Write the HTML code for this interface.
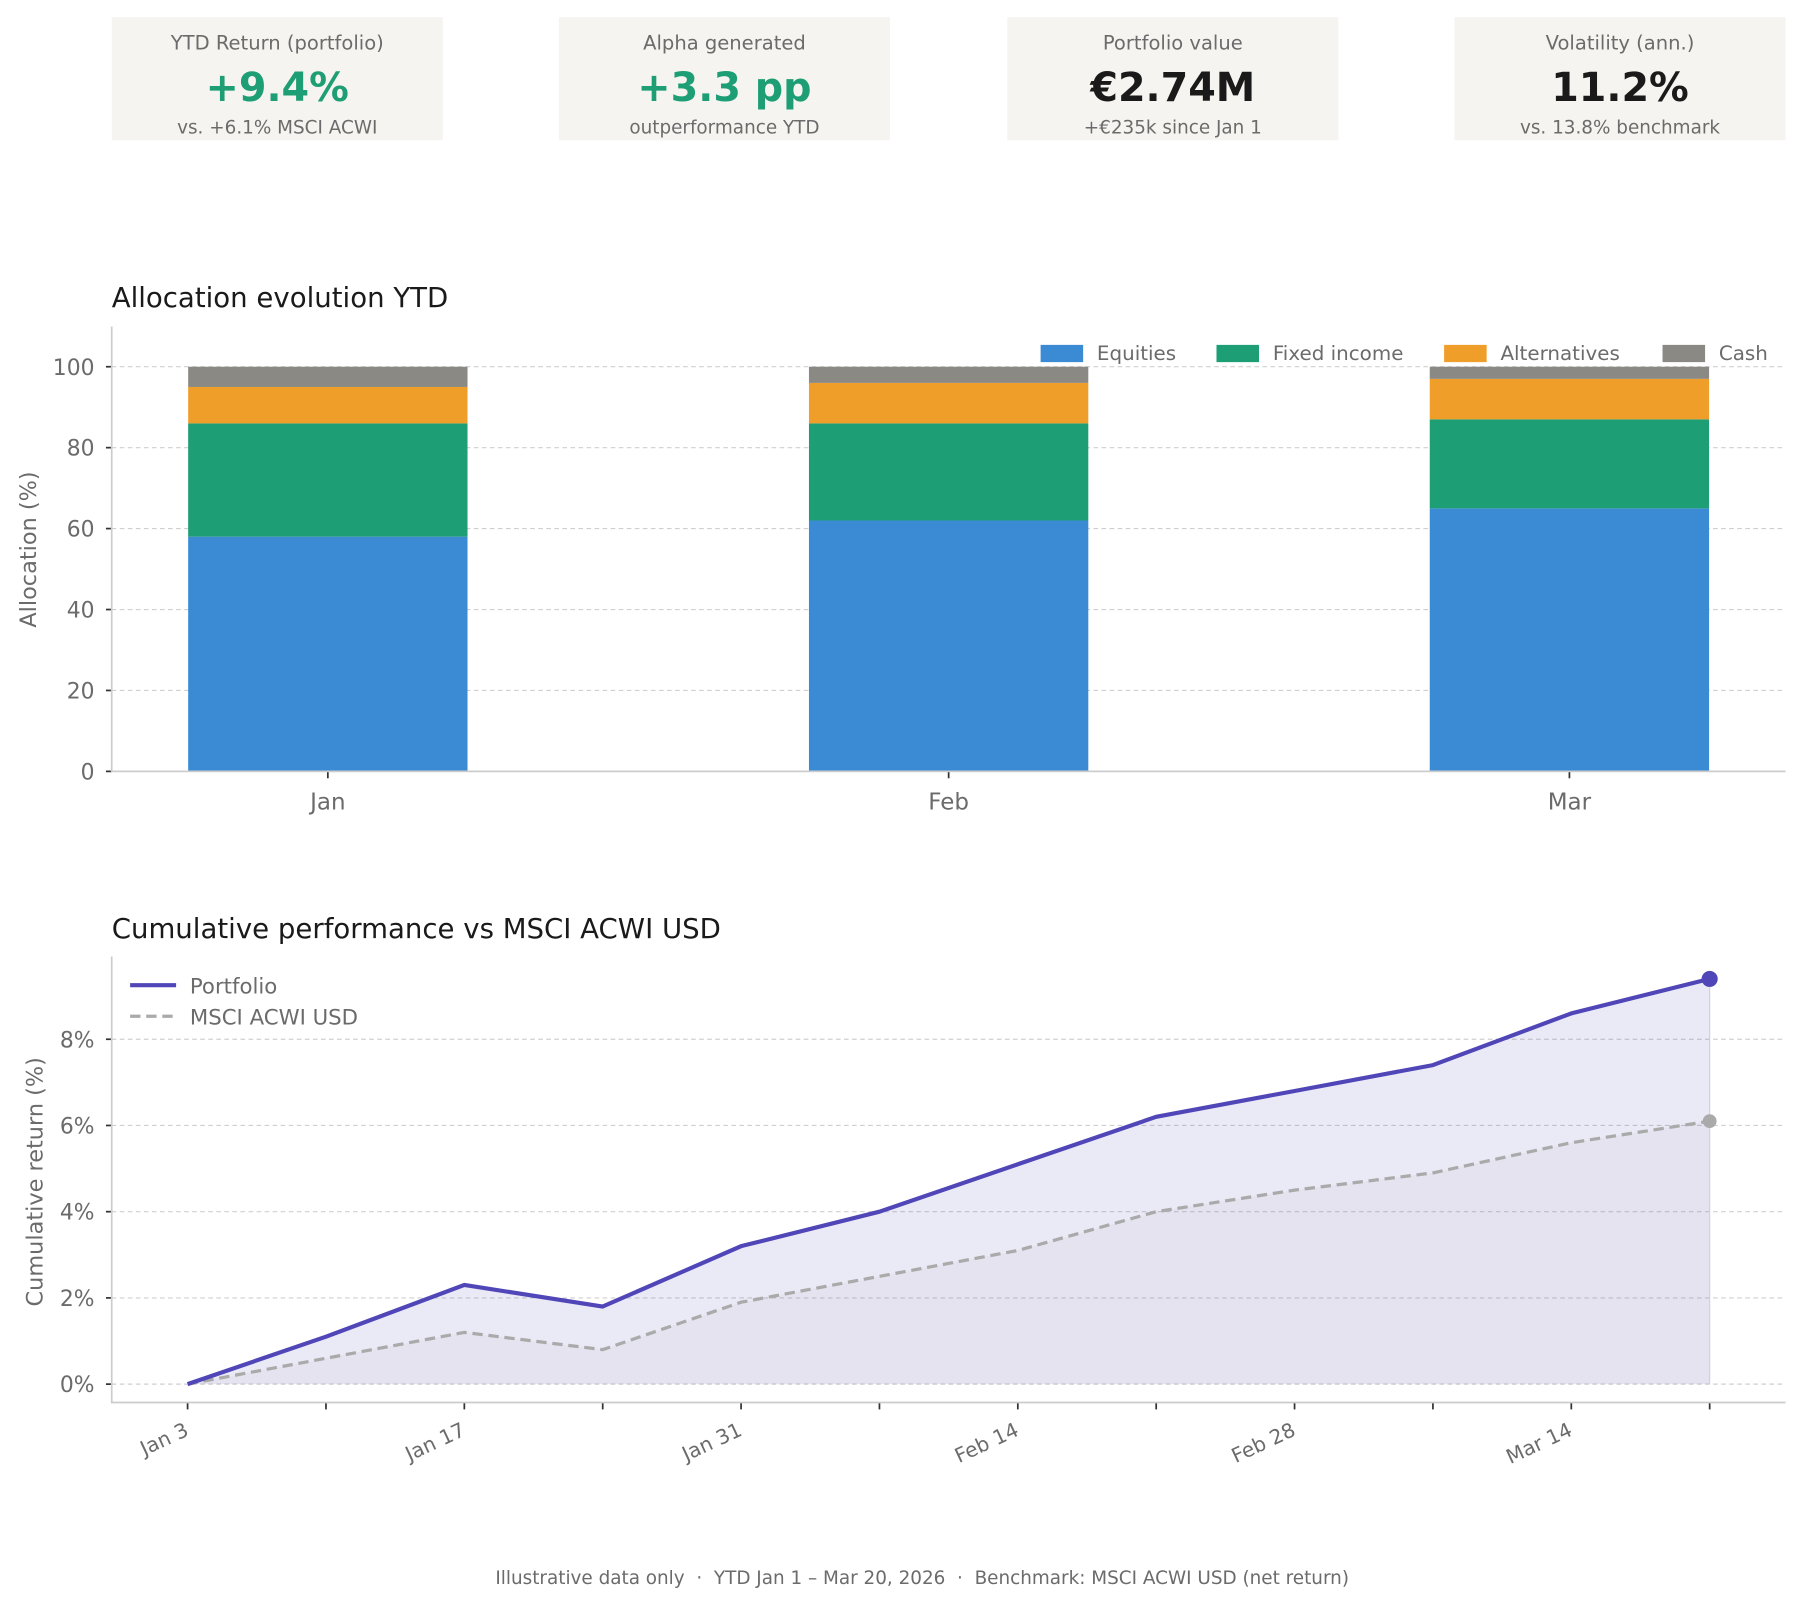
<!DOCTYPE html>
<html><head><meta charset="utf-8"><style>
html,body{margin:0;padding:0;background:#fff;}
svg{display:block;font-family:"DejaVu Sans","Liberation Sans",sans-serif;}
</style></head><body>
<svg id="root" width="1803" height="1606" viewBox="0 0 1568 1397" xmlns="http://www.w3.org/2000/svg">
<g id="cards">
 <g>
  <rect x="97" y="15" width="288" height="107" fill="#f5f4f0"/>
  <text x="241" y="43" text-anchor="middle" font-size="17" fill="#6b6b6b">YTD Return (portfolio)</text>
  <text x="241" y="88" text-anchor="middle" font-size="34.5" font-weight="bold" fill="#1e9e74">+9.4%</text>
  <text x="241" y="116" text-anchor="middle" font-size="16" fill="#6b6b6b">vs. +6.1% MSCI ACWI</text>
 </g>
 <g>
  <rect x="486" y="15" width="288" height="107" fill="#f5f4f0"/>
  <text x="630" y="43" text-anchor="middle" font-size="17" fill="#6b6b6b">Alpha generated</text>
  <text x="630" y="88" text-anchor="middle" font-size="34.5" font-weight="bold" fill="#1e9e74">+3.3 pp</text>
  <text x="630" y="116" text-anchor="middle" font-size="16" fill="#6b6b6b">outperformance YTD</text>
 </g>
 <g>
  <rect x="876" y="15" width="288" height="107" fill="#f5f4f0"/>
  <text x="1020" y="43" text-anchor="middle" font-size="17" fill="#6b6b6b">Portfolio value</text>
  <text x="1020" y="88" text-anchor="middle" font-size="34.5" font-weight="bold" fill="#1a1a1a">€2.74M</text>
  <text x="1020" y="116" text-anchor="middle" font-size="16" fill="#6b6b6b">+€235k since Jan 1</text>
 </g>
 <g>
  <rect x="1265" y="15" width="288" height="107" fill="#f5f4f0"/>
  <text x="1409" y="43" text-anchor="middle" font-size="17" fill="#6b6b6b">Volatility (ann.)</text>
  <text x="1409" y="88" text-anchor="middle" font-size="34.5" font-weight="bold" fill="#1a1a1a">11.2%</text>
  <text x="1409" y="116" text-anchor="middle" font-size="16" fill="#6b6b6b">vs. 13.8% benchmark</text>
 </g>
</g>
<text x="97" y="267" font-size="24" fill="#1a1a1a">Allocation evolution YTD</text>
<g id="alloc"></g>
<text x="97" y="816" font-size="24" fill="#1a1a1a">Cumulative performance vs MSCI ACWI USD</text>
<g id="perf"></g>
<text x="802" y="1378" text-anchor="middle" font-size="16" fill="#6b6b6b" xml:space="preserve" style="white-space:pre">Illustrative data only  ·  YTD Jan 1 – Mar 20, 2026  ·  Benchmark: MSCI ACWI USD (net return)</text>
</svg>
<script>
const months = ["Jan","Feb","Mar"];
const equities = [58,62,65];
const fixedIncome = [28,24,22];
const alternatives = [9,10,10];
const cash = [5,4,3];
const allocTicks = [0,20,40,60,80,100];

const perfDates = ["Jan 3","Jan 10","Jan 17","Jan 24","Jan 31","Feb 7","Feb 14","Feb 21","Feb 28","Mar 7","Mar 14","Mar 20"];
const portfolio = [0,1.1,2.3,1.8,3.2,4.0,5.1,6.2,6.8,7.4,8.6,9.4];
const benchmark = [0,0.6,1.2,0.8,1.9,2.5,3.1,4.0,4.5,4.9,5.6,6.1];
const perfTicks = [0,2,4,6,8];
const perfTickLabels = ["0%","2%","4%","6%","8%"];
const dateLabels = ["Jan 3","Jan 17","Jan 31","Feb 14","Feb 28","Mar 14"];

const NS="http://www.w3.org/2000/svg";
function mk(parent,tag,attrs,text){const e=document.createElementNS(NS,tag);for(const k in attrs)e.setAttribute(k,attrs[k]);if(text!==undefined)e.textContent=text;parent.appendChild(e);return e;}

// Allocation chart
(function(){
 const g=document.getElementById('alloc');
 const L=97,R=1553,T=284,B=671;
 const y=v=>B-v*(B-319)/100;
 const x=i=>285+i*540;
 const bw=243;
 for(const t of allocTicks){
  if(t>0){const gl=mk(g,'line',{x1:L,x2:R,y1:y(t),y2:y(t),stroke:'#cfcfcf','stroke-dasharray':'4,3','stroke-width':1});
  
  }
  const tk=mk(g,'line',{x1:L-5,x2:L,y1:y(t),y2:y(t),stroke:'#333','stroke-width':1.5});
  
  
  const tl=mk(g,'text',{x:L-15,y:y(t)+7,'text-anchor':'end','font-size':19,fill:'#6b6b6b'},String(t));
  
  
 }
 const series=[[equities,'#3b8ad4','equities'],[fixedIncome,'#1e9e74','fixed-income'],[alternatives,'#f09e2a','alternatives'],[cash,'#8a8984','cash']];
 months.forEach((m,i)=>{
  let base=0;
  for(const [arr,col,nm] of series){
   const r=mk(g,'rect',{x:x(i)-bw/2,y:y(base+arr[i]),width:bw,height:y(base)-y(base+arr[i]),fill:col});
   
   
   base+=arr[i];
  }
  const tk=mk(g,'line',{x1:x(i),x2:x(i),y1:B,y2:B+6,stroke:'#333','stroke-width':1.5});
  
  
  const lb=mk(g,'text',{x:x(i),y:B+33,'text-anchor':'middle','font-size':20,fill:'#6b6b6b'},m);
  
  
 });
 const ax=mk(g,'path',{d:`M${L},${T}V${B}H${R}`,fill:'none',stroke:'#cccccc','stroke-width':1.5});
 
 
 const yl=mk(g,'text',{x:0,y:0,transform:`translate(31,478) rotate(-90)`,'text-anchor':'middle','font-size':19.5,fill:'#6b6b6b'},'Allocation (%)');
 
 
 const leg=[['Equities','#3b8ad4',905],['Fixed income','#1e9e74',1058],['Alternatives','#f09e2a',1256],['Cash','#8a8984',1446]];
 for(const [t,c,lx] of leg){
  const le=mk(g,'g',{});
  
  
  mk(le,'rect',{x:lx,y:300,width:37,height:15,fill:c});
  mk(le,'text',{x:lx+49,y:313,'font-size':17.3,fill:'#6b6b6b'},t);
 }
})();

// Performance chart
(function(){
 const g=document.getElementById('perf');
 const L=97,R=1553,T=832,B=1220;
 const y=v=>1204-v*37.5;
 const x=i=>163+i*(1487-163)/(perfDates.length-1);
 for(let k=0;k<perfTicks.length;k++){
  const t=perfTicks[k];
  const gl=mk(g,'line',{x1:L,x2:R,y1:y(t),y2:y(t),stroke:'#cfcfcf','stroke-dasharray':'4,3','stroke-width':1});
  
  
  const tk=mk(g,'line',{x1:L-5,x2:L,y1:y(t),y2:y(t),stroke:'#333','stroke-width':1.5});
  
  
  const tl=mk(g,'text',{x:L-15,y:y(t)+7,'text-anchor':'end','font-size':19,fill:'#6b6b6b'},perfTickLabels[k]);
  
  
 }
 const pts=a=>a.map((v,i)=>x(i)+','+y(v)).join(' ');
 const n=perfDates.length-1;
 const fa=mk(g,'polygon',{points:pts(portfolio)+` ${x(n)},${y(0)} ${x(0)},${y(0)}`,fill:'#5046b8','fill-opacity':0.12});
 
 
 const fb=mk(g,'polygon',{points:pts(benchmark)+` ${x(n)},${y(0)} ${x(0)},${y(0)}`,fill:'#999','fill-opacity':0.07});
 
 
 const edge=mk(g,'line',{x1:x(n),x2:x(n),y1:y(portfolio[n]),y2:y(0),stroke:'#cfcfe0','stroke-width':1});
 
 
 const bl=mk(g,'polyline',{points:pts(benchmark),fill:'none',stroke:'#aaaaaa','stroke-width':2.8,'stroke-dasharray':'9,5'});
 
 
 const pl=mk(g,'polyline',{points:pts(portfolio),fill:'none',stroke:'#5046b8','stroke-width':3.6,'stroke-linejoin':'round'});
 
 
 const pe=mk(g,'circle',{cx:x(n),cy:y(portfolio[n]),r:7,fill:'#5046b8'});
 
 
 const be=mk(g,'circle',{cx:x(n),cy:y(benchmark[n]),r:6,fill:'#aaaaaa'});
 
 
 perfDates.forEach((d,i)=>{
  const tk=mk(g,'line',{x1:x(i),x2:x(i),y1:B,y2:B+6,stroke:'#333','stroke-width':1.5});
  
  
  if(dateLabels.includes(d)){
   const lb=mk(g,'text',{x:0,y:0,transform:`translate(${x(i)+2},${B+28}) rotate(-25)`,'text-anchor':'end','font-size':17.5,fill:'#6b6b6b'},d);
   
   
  }
 });
 const ax=mk(g,'path',{d:`M${L},${T}V${B}H${R}`,fill:'none',stroke:'#cccccc','stroke-width':1.5});
 
 
 const yl=mk(g,'text',{x:0,y:0,transform:`translate(37,1028) rotate(-90)`,'text-anchor':'middle','font-size':19.5,fill:'#6b6b6b'},'Cumulative return (%)');
 
 
 const l1=mk(g,'g',{});
 
 
 mk(l1,'line',{x1:113,x2:153,y1:857,y2:857,stroke:'#5046b8','stroke-width':3.6});
 mk(l1,'text',{x:165,y:864,'font-size':18.5,fill:'#6b6b6b'},'Portfolio');
 const l2=mk(g,'g',{});
 
 
 mk(l2,'line',{x1:113,x2:153,y1:884,y2:884,stroke:'#aaaaaa','stroke-width':2.8,'stroke-dasharray':'9,5'});
 mk(l2,'text',{x:165,y:891,'font-size':18.5,fill:'#6b6b6b'},'MSCI ACWI USD');
})();
</script>
</body></html>
